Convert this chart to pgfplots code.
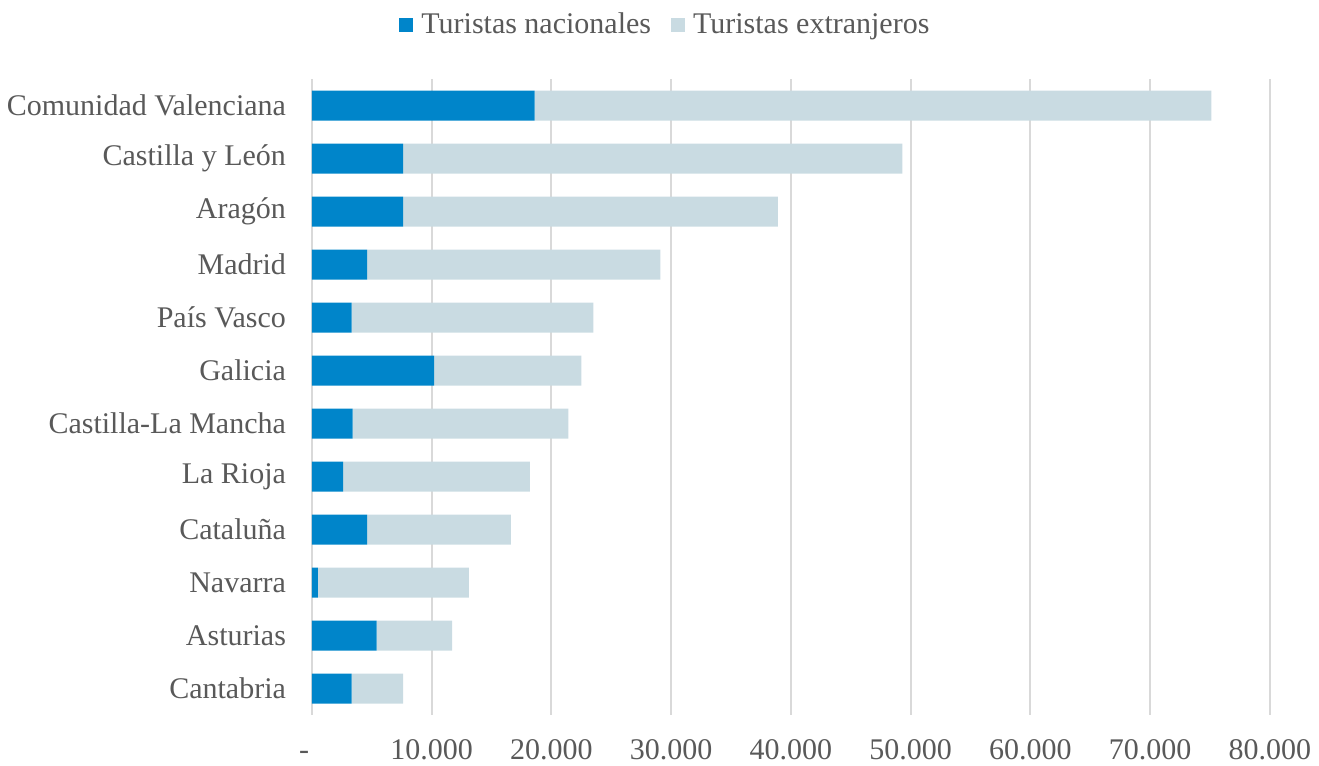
\documentclass[border=0pt]{standalone}
\usepackage{fontspec}
\setmainfont{Liberation Serif}
\usepackage{pgfplots}
\pgfplotsset{compat=1.18}
\definecolor{nac}{HTML}{0085CA}
\definecolor{ext}{HTML}{C9DBE2}
\definecolor{gridc}{HTML}{D9D9D9}
\definecolor{txt}{HTML}{595959}

\begin{document}
\begin{tikzpicture}
% 1 px of the reference = 0.5pt
\begin{axis}[
    scale only axis,
    width=479pt, height=318pt,
    at={(0,0)}, anchor=south west,
    xbar stacked,
    bar width=15pt,
    xmin=0, xmax=80000,
    ymin=-0.5, ymax=11.5,
    y dir=reverse,
    ytick={0,...,11},
    yticklabels={Comunidad Valenciana,Castilla y León,Aragón,Madrid,País Vasco,Galicia,Castilla-La Mancha,La Rioja,Cataluña,Navarra,Asturias,Cantabria},
    xtick={0,10000,...,80000},
    scaled x ticks=false,
    xticklabels={\hspace*{-8pt}-,10.000,20.000,30.000,40.000,50.000,60.000,70.000,80.000},
    xmajorgrids,
    grid style={gridc, line width=1pt},
    axis line style={draw=none},
    major tick length=0pt,
    tick style={draw=none},
    ticklabel style={font=\fontsize{15}{18}\selectfont, text=txt},
    yticklabel style={xshift=-9.5pt},
    xticklabel style={yshift=-8pt, text height=10.5pt, text depth=0pt},
    legend columns=2,
    legend style={draw=none, at={(0.37,1.085)}, anchor=center,
        font=\fontsize{15}{18}\selectfont, text=txt,
        /tikz/every odd column/.append style={column sep=2pt},
        /tikz/every even column/.append style={column sep=8pt}},
    legend image code/.code={\fill[#1,draw=none] (0pt,-3.5pt) rectangle (7pt,3.5pt);},
]
\addplot[fill=nac, draw=none] coordinates {
 (18600,0) (7600,1) (7600,2) (4600,3) (3300,4) (10200,5)
 (3400,6) (2600,7) (4600,8) (500,9) (5400,10) (3300,11)};
\addplot[fill=ext, draw=none] coordinates {
 (56500,0) (41700,1) (31300,2) (24500,3) (20200,4) (12300,5)
 (18000,6) (15600,7) (12000,8) (12600,9) (6300,10) (4300,11)};
\legend{Turistas nacionales, Turistas extranjeros}
\end{axis}
\path[use as bounding box] (-156pt,-22.5pt) rectangle (503.5pt,357.5pt);
\end{tikzpicture}
\end{document}
